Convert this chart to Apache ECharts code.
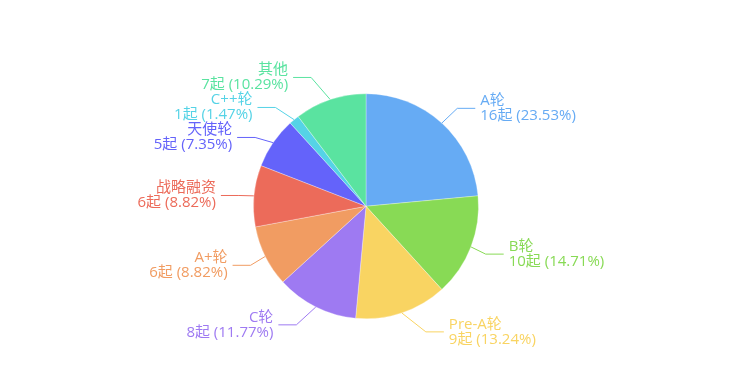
<!DOCTYPE html>
<html><head><meta charset="utf-8">
<script src="https://cdn.jsdelivr.net/npm/echarts@6/dist/echarts.min.js"></script>
<style>html,body{margin:0;padding:0;background:#fff}#c{width:732px;height:375px}</style>
</head><body><div id="c"></div>
<script>
var categories = ['A轮','B轮','Pre-A轮','C轮','A+轮','战略融资','天使轮','C++轮','其他'];
var values = [16,10,9,8,6,6,5,1,7];
var colors = ['#66abf4','#88da55','#f9d462','#9e7af2','#f19c62','#ec6b5a','#6463fa','#55d3e6','#5ae3a0'];

var chart = echarts.init(document.getElementById('c'));
var W = chart.getWidth(), H = chart.getHeight();
var CENTER = [0.5, 0.55], RADIUS = 0.6;
var cx = W * CENTER[0], cy = H * CENTER[1], r = Math.min(W, H) / 2 * RADIUS;
var LEN = 20, LEN2 = 18, DIST = 5, LABEL_H = 30;

// classic (v4-style) outer label layout
var total = values.reduce(function (s, v) { return s + v; }, 0);
var layouts = [], acc = 0;
values.forEach(function (v, i) {
  var a0 = acc / total * 2 * Math.PI; acc += v;
  var a1 = acc / total * 2 * Math.PI;
  var mid = (a0 + a1) / 2, dx = Math.sin(mid), dy = -Math.cos(mid);
  var x1 = cx + r * dx, y1 = cy + r * dy;
  var x2 = cx + (r + LEN) * dx, y2 = cy + (r + LEN) * dy;
  var x3 = x2 + (dx < 0 ? -1 : 1) * LEN2;
  layouts.push({ idx: i, x: x3 + (dx < 0 ? -DIST : DIST), y: y2, height: LABEL_H, pts: [[x1, y1], [x2, y2], [x3, y2]] });
});
function adjustSingleSide(list, dir) {
  list.sort(function (a, b) { return a.y - b.y; });
  function shiftDown(start, end, delta) {
    for (var j = start; j < end; j++) {
      if (list[j].y + delta > H) break;
      list[j].y += delta;
      if (j > start && j + 1 < end && list[j + 1].y > list[j].y + list[j].height) { shiftUp(j, delta / 2); return; }
    }
    shiftUp(end - 1, delta / 2);
  }
  function shiftUp(end, delta) {
    for (var j = end; j >= 0; j--) {
      if (list[j].y - delta < 0) break;
      list[j].y -= delta;
      if (j > 0 && list[j].y > list[j - 1].y + list[j - 1].height) break;
    }
  }
  function changeX(sub, isDown) {
    var last = isDown ? Number.MAX_VALUE : 0;
    for (var i = 0; i < sub.length; i++) {
      var deltaY = Math.abs(sub[i].y - cy);
      var R = r + LEN + LEN2;
      var deltaX = deltaY < r + LEN ? Math.sqrt(R * R - deltaY * deltaY) : Math.abs(sub[i].x - cx);
      if (isDown && deltaX >= last) deltaX = last - 10;
      if (!isDown && deltaX <= last) deltaX = last + 10;
      sub[i].x = cx + deltaX * dir;
      last = deltaX;
    }
  }
  var lastY = 0, len = list.length;
  for (var i = 0; i < len; i++) {
    var delta = list[i].y - lastY;
    if (delta < 0) shiftDown(i, len, -delta);
    lastY = list[i].y + list[i].height;
  }
  if (H - lastY < 0) shiftUp(len - 1, lastY - H);
  var up = [], down = [];
  list.forEach(function (l) { (l.y >= cy ? down : up).push(l); });
  changeX(up, false);
  changeX(down, true);
}
var leftList = [], rightList = [];
layouts.forEach(function (l) { (l.x < cx ? leftList : rightList).push(l); });
adjustSingleSide(rightList, 1);
adjustSingleSide(leftList, -1);
layouts.forEach(function (l) {
  var p = l.pts, dist = p[1][0] - p[2][0];
  p[2][0] = l.x < cx ? l.x + DIST : l.x - DIST;
  p[1][0] = p[2][0] + dist;
  p[1][1] = p[2][1] = l.y;
});
var byIdx = {};
layouts.forEach(function (l) { byIdx[l.idx] = l; });

chart.setOption({
  animation: false,
  color: colors,
  series: [{
    type: 'pie',
    center: [CENTER[0] * 100 + '%', CENTER[1] * 100 + '%'],
    radius: RADIUS * 100 + '%',
    startAngle: 90,
    avoidLabelOverlap: false,
    data: categories.map(function (n, i) { return { name: n, value: values[i] }; }),
    itemStyle: { borderColor: 'rgba(255,255,255,0.6)', borderWidth: 0.5 },
    label: {
      color: 'inherit',
      formatter: '{b}\n{c}起 ({d}%)',
      fontFamily: '"Open Sans","Noto Sans CJK SC",sans-serif',
      fontSize: 15,
      lineHeight: 15
    },
    labelLine: { lineStyle: { width: 1 } },
    labelLayout: function (p) {
      var l = byIdx[p.dataIndex];
      return { x: l.x, y: l.y, align: l.x < cx ? 'right' : 'left', verticalAlign: 'middle', labelLinePoints: l.pts };
    }
  }]
});
</script></body></html>
